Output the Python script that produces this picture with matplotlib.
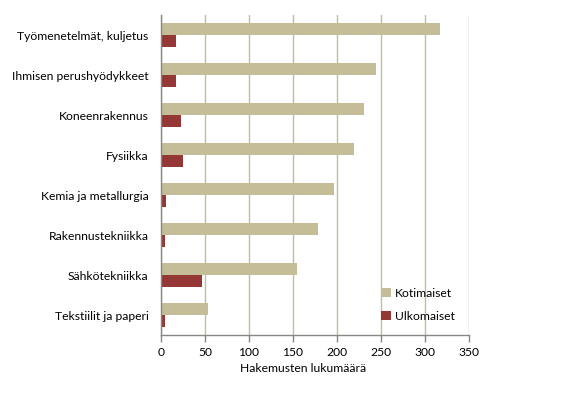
import matplotlib
matplotlib.use("Agg")
import matplotlib.pyplot as plt
import numpy as np

categories = ["Työmenetelmät, kuljetus", "Ihmisen perushyödykkeet", "Koneenrakennus",
              "Fysiikka", "Kemia ja metallurgia", "Rakennustekniikka",
              "Sähkötekniikka", "Tekstiilit ja paperi"]
kotimaiset = [317, 244, 231, 219, 197, 178, 154, 53]
ulkomaiset = [17, 17, 23, 25, 6, 5, 47, 5]
xticks = [0, 50, 100, 150, 200, 250, 300, 350]

plt.rcParams['font.family'] = ['Lato', 'DejaVu Sans']
tan = '#c4bd97'
red = '#953735'
gray = '#868686'

fig = plt.figure(figsize=(5.87, 3.97), dpi=100)
ax = fig.add_axes([161/587, 1-335/397, (469-161)/587, (335-15)/397])

n = len(categories)
y = np.arange(n)
h = 0.29
ax.barh(y - h/2, kotimaiset, height=h, color=tan, label='Kotimaiset', zorder=3)
ax.barh(y + h/2, ulkomaiset, height=h, color=red, label='Ulkomaiset', zorder=3)

ax.set_ylim(n - 0.5, -0.5)
ax.set_xlim(0, 350)
ax.set_xticks(xticks)
ax.set_xticklabels([str(t) for t in xticks], fontsize=8.7)
ax.set_yticks(y)
ax.set_yticklabels(categories, fontsize=8.7)
ax.tick_params(axis='y', length=0, pad=9)
ax.tick_params(axis='x', length=5, color=gray, width=1, pad=3.5)

ax.grid(axis='x', color=tan, linewidth=1, zorder=0)
for s in ['top', 'right']:
    ax.spines[s].set_visible(False)
for s in ['left', 'bottom']:
    ax.spines[s].set_color(gray)
    ax.spines[s].set_linewidth(1)
    ax.spines[s].set_zorder(4)

ax.legend(loc='upper left', bbox_to_anchor=(376/587, 1-283/397), bbox_transform=fig.transFigure,
          frameon=False, fontsize=8.7, handlelength=0.8, handleheight=0.8,
          labelspacing=1.0, handletextpad=0.4, borderaxespad=0)

fig.text(303/587, 1-369/397, "Hakemusten lukumäärä", ha='center', va='center', fontsize=8.7)

fig.savefig("out.png", dpi=100)
